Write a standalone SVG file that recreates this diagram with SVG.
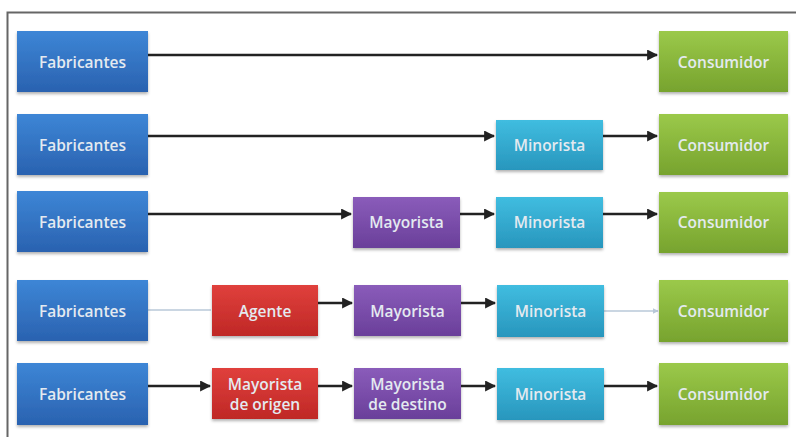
<svg xmlns="http://www.w3.org/2000/svg" width="796" height="437" viewBox="0 0 796 437">
<defs>
<linearGradient id="gBlue" x1="0" y1="0" x2="0" y2="1"><stop offset="0" stop-color="#3d86d6"/><stop offset="1" stop-color="#2a62b0"/></linearGradient>
<linearGradient id="gGreen" x1="0" y1="0" x2="0" y2="1"><stop offset="0" stop-color="#9bc94a"/><stop offset="1" stop-color="#77a32e"/></linearGradient>
<linearGradient id="gCyan" x1="0" y1="0" x2="0" y2="1"><stop offset="0" stop-color="#40bde0"/><stop offset="1" stop-color="#2896bd"/></linearGradient>
<linearGradient id="gPurple" x1="0" y1="0" x2="0" y2="1"><stop offset="0" stop-color="#8a5cba"/><stop offset="1" stop-color="#6a3f9a"/></linearGradient>
<linearGradient id="gRed" x1="0" y1="0" x2="0" y2="1"><stop offset="0" stop-color="#e0403c"/><stop offset="1" stop-color="#bf2826"/></linearGradient>
<filter id="sh" x="-10%" y="-10%" width="120%" height="130%"><feDropShadow dx="0" dy="2" stdDeviation="1.5" flood-color="#000" flood-opacity="0.3"/></filter>
<marker id="ah" viewBox="0 0 10 10" refX="9" refY="5" markerWidth="4.4" markerHeight="4.4" orient="auto" markerUnits="strokeWidth"><path d="M0,0 L10,5 L0,10 z" fill="#222"/></marker>
<marker id="ahl" viewBox="0 0 10 10" refX="9" refY="5" markerWidth="4" markerHeight="4" orient="auto" markerUnits="strokeWidth"><path d="M0,0 L10,5 L0,10 z" fill="#b8c8d8"/></marker>
</defs>
<style>
.b{filter:url(#sh)}
.t{font-family:"Open Sans","DejaVu Sans",sans-serif;font-size:15.5px;font-weight:600;fill:#e4eaf0;text-anchor:middle;dominant-baseline:central}
.c{stroke:#222;stroke-width:2.5;fill:none;marker-end:url(#ah)}
.cl{stroke:#b8c8d8;stroke-width:1.5;fill:none}
.cla{stroke:#b8c8d8;stroke-width:1.5;fill:none;marker-end:url(#ahl)}
</style>
<rect width="796" height="437" fill="#fff"/>
<path d="M7.5,437 V12.5 H796" fill="none" stroke="#666" stroke-width="2"/>
<g id="connectors">
<line class="c" x1="148" y1="55" x2="657" y2="55"/>
<line class="c" x1="148" y1="136" x2="494" y2="136"/>
<line class="c" x1="603" y1="136" x2="657" y2="136"/>
<line class="c" x1="148" y1="214" x2="351" y2="214"/>
<line class="c" x1="460" y1="214" x2="494" y2="214"/>
<line class="c" x1="603" y1="214" x2="657" y2="214"/>
<line class="cl" x1="148" y1="310" x2="211" y2="310"/>
<line class="c" x1="318" y1="303" x2="352" y2="303"/>
<line class="c" x1="461" y1="303" x2="495" y2="303"/>
<line class="cla" x1="604" y1="311" x2="658" y2="311"/>
<line class="c" x1="148" y1="386" x2="210" y2="386"/>
<line class="c" x1="318" y1="386" x2="352" y2="386"/>
<line class="c" x1="461" y1="386" x2="495" y2="386"/>
<line class="c" x1="604" y1="386" x2="657" y2="386"/>
</g>
<g id="fab1"><rect class="b" x="17" y="31" width="131" height="61" fill="url(#gBlue)"/><text class="t" x="82.5" y="62">Fabricantes</text></g>
<g id="con1"><rect class="b" x="659" y="31" width="129" height="61" fill="url(#gGreen)"/><text class="t" x="723.5" y="62">Consumidor</text></g>
<g id="fab2"><rect class="b" x="17" y="114" width="131" height="61" fill="url(#gBlue)"/><text class="t" x="82.5" y="145">Fabricantes</text></g>
<g id="min2"><rect class="b" x="496" y="120" width="107" height="50" fill="url(#gCyan)"/><text class="t" x="549.5" y="145">Minorista</text></g>
<g id="con2"><rect class="b" x="659" y="114" width="129" height="61" fill="url(#gGreen)"/><text class="t" x="723.5" y="145">Consumidor</text></g>
<g id="fab3"><rect class="b" x="17" y="191" width="131" height="61" fill="url(#gBlue)"/><text class="t" x="82.5" y="222">Fabricantes</text></g>
<g id="may3"><rect class="b" x="353" y="197" width="107" height="51" fill="url(#gPurple)"/><text class="t" x="406.5" y="222">Mayorista</text></g>
<g id="min3"><rect class="b" x="496" y="197" width="107" height="51" fill="url(#gCyan)"/><text class="t" x="549.5" y="222">Minorista</text></g>
<g id="con3"><rect class="b" x="659" y="192" width="129" height="61" fill="url(#gGreen)"/><text class="t" x="723.5" y="222">Consumidor</text></g>
<g id="fab4"><rect class="b" x="17" y="280" width="131" height="61" fill="url(#gBlue)"/><text class="t" x="82.5" y="311">Fabricantes</text></g>
<g id="age4"><rect class="b" x="212" y="285" width="106" height="51" fill="url(#gRed)"/><text class="t" x="265" y="311">Agente</text></g>
<g id="may4"><rect class="b" x="354" y="285" width="107" height="51" fill="url(#gPurple)"/><text class="t" x="407.5" y="311">Mayorista</text></g>
<g id="min4"><rect class="b" x="497" y="285" width="107" height="52" fill="url(#gCyan)"/><text class="t" x="550.5" y="311">Minorista</text></g>
<g id="con4"><rect class="b" x="659" y="280" width="129" height="62" fill="url(#gGreen)"/><text class="t" x="723.5" y="311">Consumidor</text></g>
<g id="fab5"><rect class="b" x="17" y="363" width="131" height="62" fill="url(#gBlue)"/><text class="t" x="82.5" y="394">Fabricantes</text></g>
<g id="mayo5"><rect class="b" x="212" y="368" width="106" height="51" fill="url(#gRed)"/><text class="t" x="265" y="384">Mayorista</text><text class="t" x="265" y="404">de origen</text></g>
<g id="mayd5"><rect class="b" x="354" y="368" width="107" height="51" fill="url(#gPurple)"/><text class="t" x="407.5" y="384">Mayorista</text><text class="t" x="407.5" y="404">de destino</text></g>
<g id="min5"><rect class="b" x="497" y="368" width="107" height="52" fill="url(#gCyan)"/><text class="t" x="550.5" y="394">Minorista</text></g>
<g id="con5"><rect class="b" x="659" y="363" width="129" height="62" fill="url(#gGreen)"/><text class="t" x="723.5" y="394">Consumidor</text></g>
</svg>
